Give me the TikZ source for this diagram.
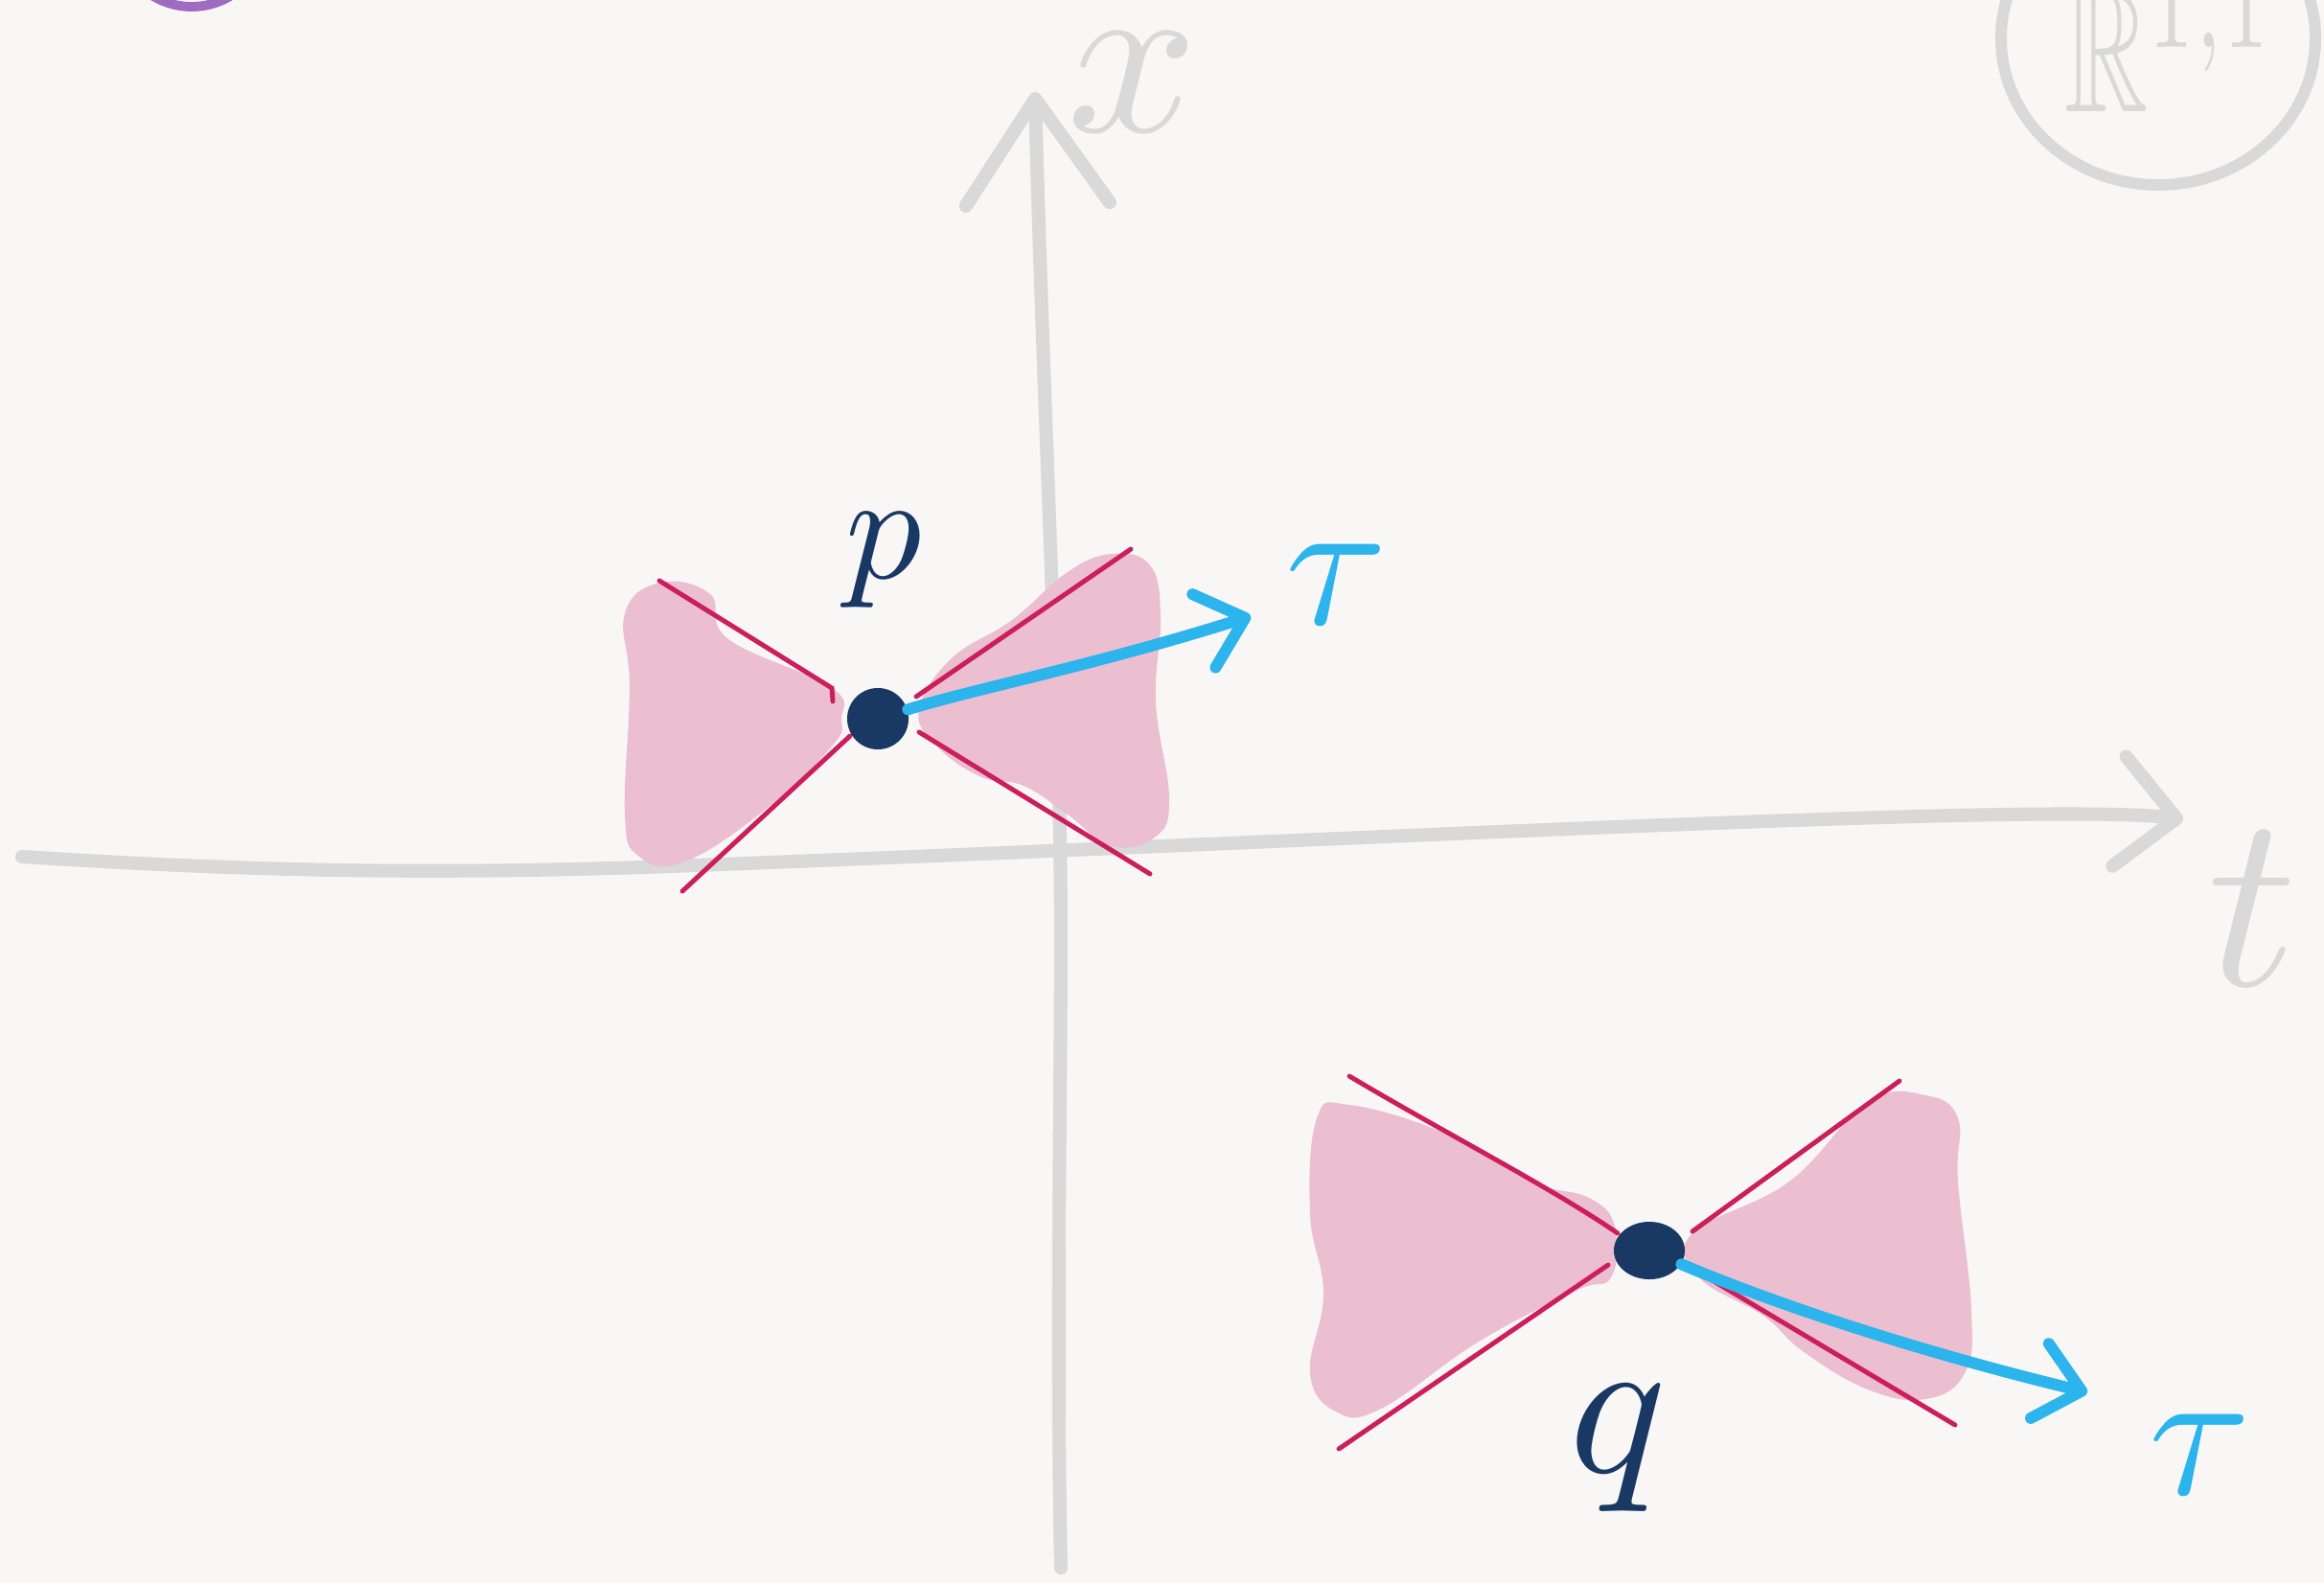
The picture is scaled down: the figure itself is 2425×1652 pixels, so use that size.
\documentclass[tikz,border=0pt]{standalone}
\usepackage{amssymb}
\usetikzlibrary{arrows.meta,shapes.geometric}

\definecolor{paper}{RGB}{248,247,246}
\definecolor{axisgray}{RGB}{217,217,217}
\definecolor{navy}{RGB}{26,56,100}
\definecolor{conered}{RGB}{204,30,92}
\definecolor{conepink}{RGB}{235,190,208}
\definecolor{sky}{RGB}{44,180,236}
\definecolor{markpurple}{RGB}{158,108,192}

\begin{document}
\begin{tikzpicture}[x=0.01cm, y=-0.01cm, >=latex]

% --- Stijlen ---
\tikzset{
    axis/.style={draw=axisgray, line width=4pt, line cap=round, line join=round},
    axistip/.style={-{Straight Barb[length=6mm, width=11.5mm, round]}},
    cone/.style={fill=conepink},
    coneline/.style={draw=conered, line width=1.4pt, line cap=round},
    dot/.style={ellipse, fill=navy, inner sep=0pt},
    tauarrow/.style={
        draw=sky,
        line width=3.4pt,
        line cap=round,
        -{Straight Barb[length=4.5mm, width=8mm, round]}
    },
    ptlabel/.style={text=navy, inner sep=0pt},
    taulabel/.style={text=sky, inner sep=0pt, scale=5.5},
    axislabel/.style={text=axisgray, inner sep=0pt}
}

% --- Achtergrond ---
\fill[paper] (0,0) rectangle (2425,1652);
\useasboundingbox (0,0) rectangle (2425,1652);

% Markering linksboven (half zichtbaar)
\draw[markpurple, line width=2.8pt] (200,-71) circle (78);

% --- Ruimte R^{1,1} rechtsboven ---
\draw[axisgray, line width=3.4pt] (2252,40) ellipse (164 and 153);
\node[axislabel, anchor=base west, scale=5.3, xscale=0.65] (space) at (2152,117) {$\mathbb{R}^{1,1}$};

% --- Assen ---
\draw[axis, axistip] (23,894) .. controls (200,905) and (400,915) .. (700,904)
    .. controls (1200,885) and (1700,860) .. (2000,852)
    .. controls (2150,848) and (2230,849) .. (2278,855);
\draw[axis, -{Straight Barb[length=11mm, width=15mm, round]}] (1107,1636)
    .. controls (1100,1300) and (1112,1000) .. (1104,800)
    .. controls (1096,550) and (1085,300) .. (1080,96);
\node[axislabel, scale=6.8] (xlab) at (1182,86) {$x$};
\node[axislabel, scale=7.4] (tlab) at (2350,948) {$t$};

% --- Lichtkegel in p ---
\fill[cone] plot[smooth cycle, tension=0.7] coordinates {
    (652,640) (689,608) (741,620) (760,667) (867,717) (878,750)
    (867,780) (792,850) (712,900) (666,893) (652,850) (657,717)};
\fill[cone] plot[smooth cycle, tension=0.7] coordinates {
    (959,740) (993,687) (1056,647) (1114,597) (1160,578) (1200,590)
    (1211,643) (1206,733) (1220,833) (1206,873) (1160,883) (1114,850)
    (1068,820) (1022,810) (976,777)};
\draw[coneline] (688,606) -- (868,718) -- (869,732);
\draw[coneline] (887,768) -- (712,930);
\draw[coneline] (956,727) -- (1180,573);
\draw[coneline] (959,764) -- (1200,912);

\node[dot, minimum width=0.64cm, minimum height=0.64cm] (p) at (916,750) {};
\node[ptlabel, scale=4.5] (plab) at (922,585) {$p$};
\coordinate (ptip) at (1305,643);
\draw[tauarrow] (p) .. controls (1020,718) and (1140,695) .. (ptip);
\node[taulabel] (ptau) at (1395,610) {$\tau$};

% --- Lichtkegel in q ---
\fill[cone] plot[smooth cycle, tension=0.7] coordinates {
    (1374,1167) (1408,1153) (1509,1183) (1597,1233) (1658,1250) (1685,1280)
    (1681,1333) (1644,1347) (1543,1400) (1441,1470) (1394,1473) (1367,1433)
    (1381,1350) (1367,1267)};
\fill[cone] plot[smooth cycle, tension=0.7] coordinates {
    (1766,1287) (1867,1233) (1949,1150) (2009,1143) (2043,1167) (2043,1233)
    (2057,1367) (2050,1433) (2009,1460) (1949,1450) (1881,1410) (1840,1373)
    (1773,1333)};
\draw[coneline] (1408,1123) .. controls (1500,1178) and (1620,1240) .. (1688,1287);
\draw[coneline] (1678,1320) -- (1397,1512);
\draw[coneline] (1766,1285) -- (1982,1128);
\draw[coneline] (1763,1322) -- (2040,1487);

\node[dot, minimum width=0.74cm, minimum height=0.6cm] (q) at (1721,1305) {};
\node[ptlabel, scale=6] (qlab) at (1688,1512) {$q$};
\coordinate (qtip) at (2178,1453);
\draw[tauarrow] (q) .. controls (1850,1360) and (2000,1410) .. (qtip);
\node[taulabel] (qtau) at (2296,1518) {$\tau$};

\end{tikzpicture}
\end{document}
